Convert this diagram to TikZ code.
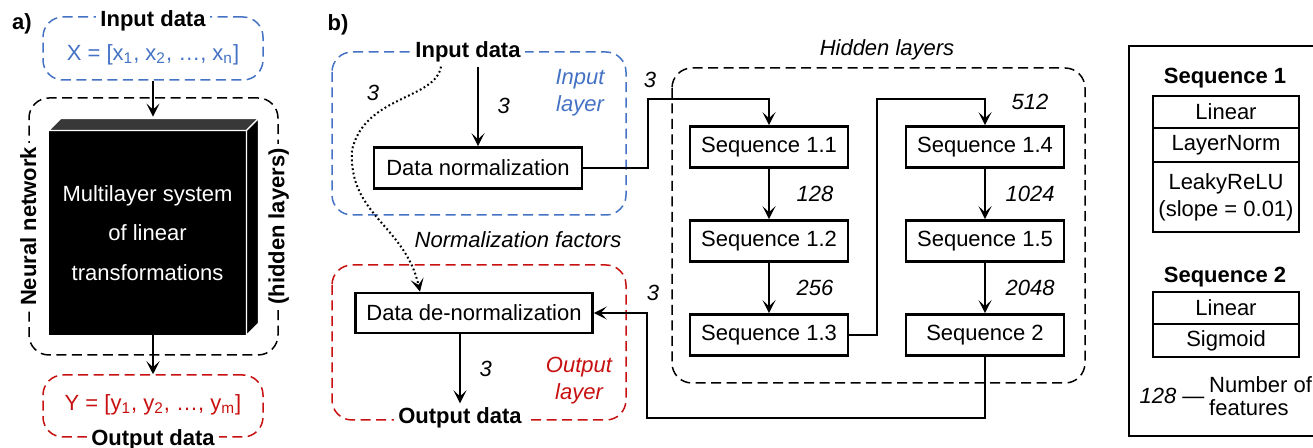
\documentclass[tikz,border=0pt]{standalone}
\usepackage{fontspec}
\setmainfont{Liberation Sans}
\usetikzlibrary{arrows.meta,positioning}

\definecolor{inblue}{RGB}{68,114,196}
\definecolor{outred}{RGB}{200,16,16}
\newcommand\basefont{\fontsize{11}{13.5}\selectfont}

\begin{document}
\begin{tikzpicture}[x=0.5pt,y=-0.5pt,font=\basefont,
    >={Stealth[length=6.5pt,width=6.5pt,inset=3pt]},
    node distance=47pt,
    seq box/.style={draw,line width=1.3pt,minimum width=79pt,minimum height=20.5pt,inner sep=0pt},
    proc box/.style={draw,line width=1.3pt,minimum height=20.5pt},
    group/.style={draw,line width=0.75pt,dash pattern=on 5pt off 2.75pt,rounded corners=10pt},
    title/.style={font=\basefont\bfseries,fill=white,inner sep=2pt},
    num/.style={font=\basefont\itshape},
    link/.style={->,line width=1pt},
    cell/.style={draw,line width=1pt,minimum width=73pt,inner sep=0pt,outer sep=0pt,align=center}]

\useasboundingbox (0,0) rectangle (1313,448);

% a) general scheme
\node[font=\basefont\bfseries] (la) at (22,24) {a)};
\node[group,inblue,minimum width=110pt,minimum height=31.5pt] (ina) at (153,48.5) {};
\node[title] at (153,21) {Input data};
\node[text=inblue] (xa) at (153,55) {X = [x\textsubscript{1}, x\textsubscript{2}, …, x\textsubscript{n}]};

\node[group,minimum width=124.5pt,minimum height=128.5pt] (nn) at (153.5,226.5) {};
\node[title,rotate=90] at (nn.west) {Neural network};
\node[title,rotate=90] at (nn.east) {(hidden layers)};

\node[fill=black,text=white,align=center,inner sep=0pt,minimum width=98.5pt,minimum height=102pt,
    font=\fontsize{11}{19.75}\selectfont] (cube) at (147.5,233) {Multilayer system\\of linear\\transformations};
\fill[black!78,draw=white,line width=0.6pt] (cube.north west) -- ++(6pt,6pt)
    -- ([shift={(6pt,6pt)}]cube.north east) -- (cube.north east) -- cycle;
\fill[black,draw=white,line width=0.6pt] (cube.north east) -- ++(6pt,6pt)
    -- ([shift={(6pt,6pt)}]cube.south east) -- (cube.south east) -- cycle;
\coordinate (ctop) at ([shift={(3pt,7pt)}]cube.north);

\node[group,outred,minimum width=110pt,minimum height=31pt] (outa) at (153,406) {};
\node[text=outred] (ya) at (153,405) {Y = [y\textsubscript{1}, y\textsubscript{2}, …, y\textsubscript{m}]};
\node[title] at (153,440) {Output data};

\draw[link] (ina.south) -- (ina.south |- ctop);
\draw[link] (outa.north |- cube.south) -- (outa.north);

% b) model structure
\node[font=\basefont\bfseries] (lb) at (338,25) {b)};
\draw[group,inblue] (332,52) rectangle (626,215);
\draw[group,outred] (332,265) rectangle (626,420);
\draw[group] (672,68) rectangle (1085,383);

\node[title] (inb) at (468,52) {Input data};
\node[title] (outb) at (460,418) {Output data};
\node[font=\basefont\itshape,text=inblue,align=center] at (580,93) {Input\\layer};
\node[font=\basefont\itshape,text=outred,align=center] at (579,381) {Output\\layer};
\node[num] at (887,50) {Hidden layers};
\node[num] at (518,240) {Normalization factors};

\node[proc box,minimum width=104pt] (norm) at (478,168) {Data normalization};
\node[proc box,minimum width=118.5pt,minimum height=20pt] (denorm) at (474,313) {Data de-normalization};

\node[seq box] (s11) at (769,147) {Sequence 1.1};
\node[seq box] (s12) [below of=s11] {Sequence 1.2};
\node[seq box] (s13) [below of=s12] {Sequence 1.3};
\node[seq box] (s14) at (985,147) {Sequence 1.4};
\node[seq box] (s15) [below of=s14] {Sequence 1.5};
\node[seq box] (s2) [below of=s15] {Sequence 2};

\coordinate (k1) at (648,99);
\coordinate (k2) at (877,99);
\coordinate (k3) at (647,418);

\draw[link] (inb.south -| norm.north) -- node[num,right=6pt] {3} (norm.north);
\draw[link] (denorm.south -| outb.north) -- node[num,right=6pt] {3} (outb.north);
\draw[link] (norm.east) -| (k1) -| (s11.north);
\draw[link] (s11) -- node[num,right=10pt] {128} (s12);
\draw[link] (s12) -- node[num,right=10pt] {256} (s13);
\draw[link] (s13.east) -| (k2) -| (s14.north);
\draw[link] (s14) -- node[num,right=6.5pt] {1024} (s15);
\draw[link] (s15) -- node[num,right=6.5pt] {2048} (s2);
\draw[link] (s2.south) |- (k3) |- (denorm.east);
\draw[->,line width=1pt,dash pattern=on 0.9pt off 1.3pt] ([xshift=-13.5pt]inb.south)
    .. controls (435,100) and (365,95) .. (352,150)
    .. controls (348,215) and (405,225) .. ([xshift=-27pt]denorm.north);

\node[num] at (650,80) {3};
\node[num] at (653,293) {3};
\node[num] at (1030,102) {512};
\node[num] at (373,93) {3};

% legend
\draw[line width=0.8pt] (1313,46) -| (1129,436) -- (1313,436);
\node[title] (t1) at (1225,78) {Sequence 1};
\node[cell,minimum height=16pt] (lin1) at (1226,112) {Linear};
\node[cell,minimum height=17pt,below=0pt of lin1] (lnorm) {LayerNorm};
\node[cell,minimum height=35pt,below=0pt of lnorm] (lrelu) {LeakyReLU\\(slope = 0.01)};
\node[title] (t2) at (1225,277) {Sequence 2};
\node[cell,minimum height=16pt] (lin2) at (1226,308) {Linear};
\node[cell,minimum height=16.5pt,below=0pt of lin2] (sigm) {Sigmoid};
\node[inner sep=1pt] (key) at (1172,396) {\textit{128} —};
\node[inner sep=1pt,align=left,font=\fontsize{11}{11.5}\selectfont,right=0pt of key] (keytxt) {Number of\\features};

\end{tikzpicture}
\end{document}
